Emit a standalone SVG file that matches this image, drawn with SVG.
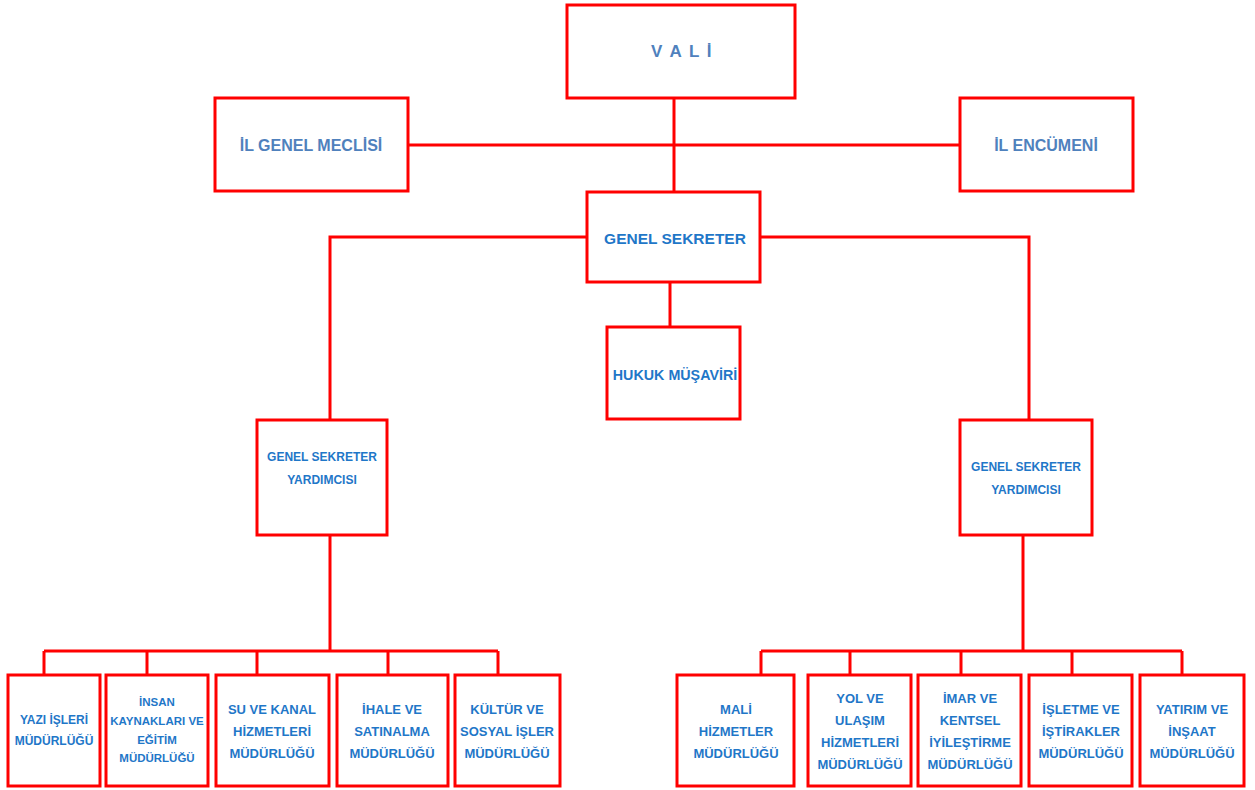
<svg xmlns="http://www.w3.org/2000/svg" width="1255" height="790" viewBox="0 0 1255 790">
<style>
.box{fill:#fff;stroke:#ff0000;stroke-width:3}
.ln{fill:none;stroke:#ff0000;stroke-width:3}
text{font-family:"Liberation Sans",Arial,sans-serif;font-weight:bold;text-anchor:middle;dominant-baseline:central}
.t1{fill:#4f81bd}
.t2{fill:#1f77c8}
.s16{font-size:16px}
.s13{font-size:13px}
.s12{font-size:12px}
</style>
<rect width="1255" height="790" fill="#fff"/>
<g id="connectors">
<path class="ln" d="M674 98V192"/>
<path class="ln" d="M408 145H960"/>
<path class="ln" d="M587 237H330V420"/>
<path class="ln" d="M760 237H1029V420"/>
<path class="ln" d="M670 282V327"/>
<path class="ln" d="M330 535V651"/>
<path class="ln" d="M44 651H498M44 651V675M147 651V675M257 651V675M388 651V675M498 651V675"/>
<path class="ln" d="M1023 535V651"/>
<path class="ln" d="M761 651H1182M761 651V675M850 651V675M961 651V675M1072 651V675M1182 651V675"/>
</g>
<g id="vali"><rect class="box" x="567" y="5" width="228" height="93"/><text class="t1" x="682" y="51" style="font-size:17px;letter-spacing:1.5px">V A L İ</text></g>
<g id="il-genel-meclisi"><rect class="box" x="215" y="98" width="193" height="93"/><text class="t1 s16" x="311" y="145">İL GENEL MECLİSİ</text></g>
<g id="il-encumeni"><rect class="box" x="960" y="98" width="173" height="93"/><text class="t1 s16" x="1046" y="145">İL ENCÜMENİ</text></g>
<g id="genel-sekreter"><rect class="box" x="587" y="192" width="173" height="90"/><text class="t2" x="675" y="238" style="font-size:15.5px">GENEL SEKRETER</text></g>
<g id="hukuk-musaviri"><rect class="box" x="607" y="327" width="133" height="92"/><text class="t2" x="675" y="375" style="font-size:14.3px">HUKUK MÜŞAVİRİ</text></g>
<g id="gsy-left"><rect class="box" x="257" y="420" width="130" height="115"/><text class="t2 s12" x="322" y="457">GENEL SEKRETER</text><text class="t2 s12" x="322" y="480">YARDIMCISI</text></g>
<g id="gsy-right"><rect class="box" x="960" y="420" width="132" height="115"/><text class="t2 s12" x="1026" y="467">GENEL SEKRETER</text><text class="t2 s12" x="1026" y="490">YARDIMCISI</text></g>
<g id="yazi-isleri"><rect class="box" x="8" y="675" width="92" height="111"/><text class="t2 s12" x="54" y="720">YAZI İŞLERİ</text><text class="t2 s12" x="54" y="741">MÜDÜRLÜĞÜ</text></g>
<g id="insan-kaynaklari"><rect class="box" x="106" y="675" width="102" height="111"/><text class="t2" style="font-size:11.5px" x="157" y="702">İNSAN</text><text class="t2" style="font-size:11.5px" x="157" y="721">KAYNAKLARI VE</text><text class="t2" style="font-size:11.5px" x="157" y="740">EĞİTİM</text><text class="t2" style="font-size:11.5px" x="157" y="758">MÜDÜRLÜĞÜ</text></g>
<g id="su-ve-kanal"><rect class="box" x="216" y="675" width="113" height="111"/><text class="t2 s13" x="272" y="709">SU VE KANAL</text><text class="t2 s13" x="272" y="731">HİZMETLERİ</text><text class="t2 s13" x="272" y="753">MÜDÜRLÜĞÜ</text></g>
<g id="ihale"><rect class="box" x="337" y="675" width="111" height="111"/><text class="t2 s13" x="392" y="709">İHALE VE</text><text class="t2 s13" x="392" y="731">SATINALMA</text><text class="t2 s13" x="392" y="753">MÜDÜRLÜĞÜ</text></g>
<g id="kultur"><rect class="box" x="455" y="675" width="105" height="111"/><text class="t2 s13" x="507" y="709">KÜLTÜR VE</text><text class="t2 s13" x="507" y="731">SOSYAL İŞLER</text><text class="t2 s13" x="507" y="753">MÜDÜRLÜĞÜ</text></g>
<g id="mali"><rect class="box" x="677" y="675" width="117" height="111"/><text class="t2 s13" x="736" y="709">MALİ</text><text class="t2 s13" x="736" y="731">HİZMETLER</text><text class="t2 s13" x="736" y="753">MÜDÜRLÜĞÜ</text></g>
<g id="yol"><rect class="box" x="808" y="675" width="103" height="111"/><text class="t2 s13" x="860" y="698">YOL VE</text><text class="t2 s13" x="860" y="720">ULAŞIM</text><text class="t2 s13" x="860" y="742">HİZMETLERİ</text><text class="t2 s13" x="860" y="764">MÜDÜRLÜĞÜ</text></g>
<g id="imar"><rect class="box" x="918" y="675" width="103" height="111"/><text class="t2 s13" x="970" y="698">İMAR VE</text><text class="t2 s13" x="970" y="720">KENTSEL</text><text class="t2 s13" x="970" y="742">İYİLEŞTİRME</text><text class="t2 s13" x="970" y="764">MÜDÜRLÜĞÜ</text></g>
<g id="isletme"><rect class="box" x="1029" y="675" width="103" height="111"/><text class="t2 s13" x="1081" y="709">İŞLETME VE</text><text class="t2 s13" x="1081" y="731">İŞTİRAKLER</text><text class="t2 s13" x="1081" y="753">MÜDÜRLÜĞÜ</text></g>
<g id="yatirim"><rect class="box" x="1140" y="675" width="104" height="111"/><text class="t2 s13" x="1192" y="709">YATIRIM VE</text><text class="t2 s13" x="1192" y="731">İNŞAAT</text><text class="t2 s13" x="1192" y="753">MÜDÜRLÜĞÜ</text></g>
</svg>
